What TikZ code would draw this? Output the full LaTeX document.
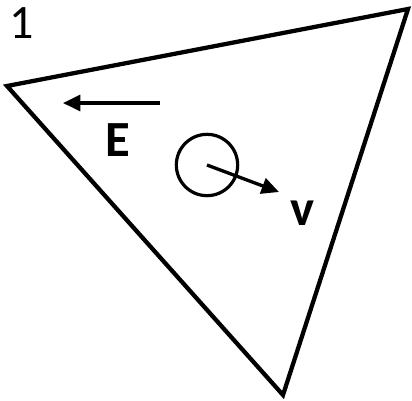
\documentclass[tikz,border=0pt]{standalone}
\usepackage{fontspec}
\setmainfont{Carlito}
\usetikzlibrary{arrows.meta}
\tikzset{
  vecarrow/.style={
    line width=2.5pt,
    -{Triangle[length=13pt,width=12pt]}
  },
  charge/.style={
    draw, circle, line width=2.4pt,
    minimum size=46pt, inner sep=0
  },
  veclabel/.style={font=\fontsize{38}{42}\selectfont\bfseries}
}

\begin{document}
\begin{tikzpicture}[x=0.75pt,y=-0.75pt]
\useasboundingbox (0,0) rectangle (412,401);

%%%triangle
  \coordinate (left) at (7,86);
  \coordinate (topright) at (408,9);
  \coordinate (bottom) at (283,395);
  \draw[line width=3.2pt, line join=miter] (left) -- (topright) -- (bottom) -- cycle;

%%%number
  \node[font=\fontsize{36}{40}\selectfont] (num) at (22,23) {1};

%%%field
  \coordinate (Estart) at (160,103);
  \coordinate (Eend) at (63,103);
  \draw[vecarrow] (Estart) -- (Eend);
  \node[veclabel] (Elab) at (118,140) {E};

%%%particle
  \node[charge] (q) at (207,165) {};
  \coordinate (vend) at (279,192);
  \draw[vecarrow] (q.center) -- (vend);
  \node[veclabel] (vlab) at (302,213) {v};

\end{tikzpicture}
\end{document}
